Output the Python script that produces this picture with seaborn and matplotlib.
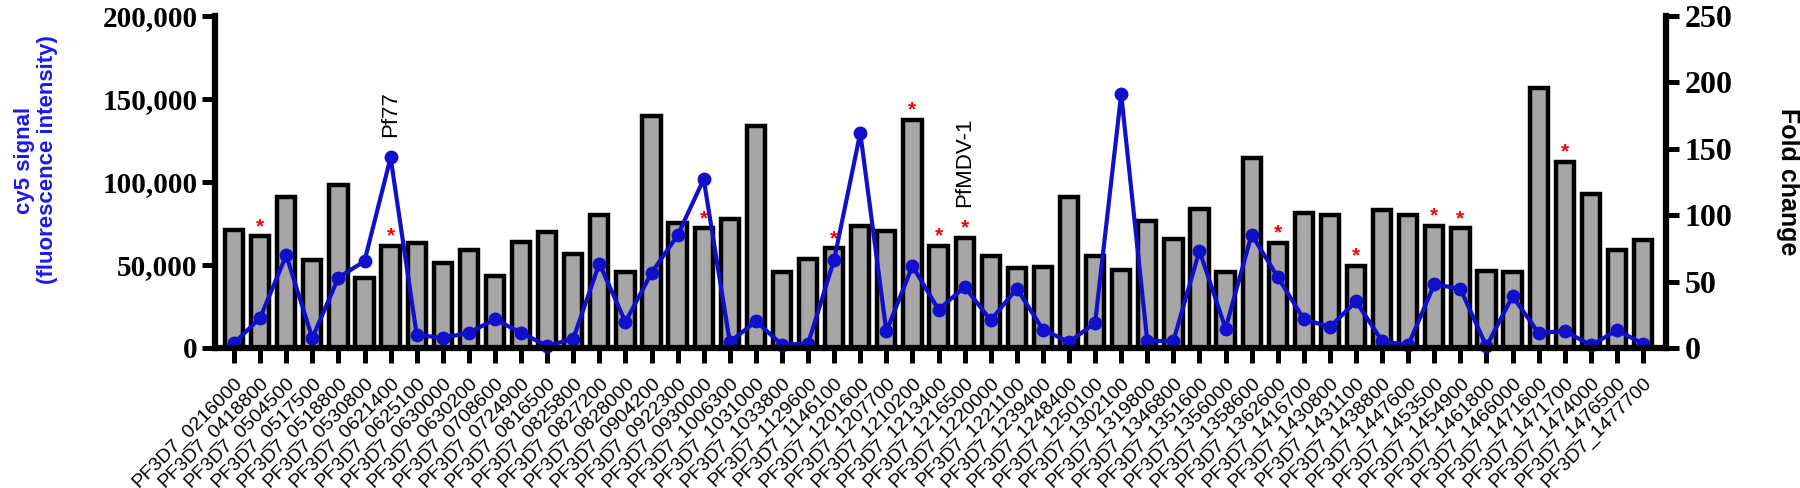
import numpy as np
import pandas as pd
import matplotlib
matplotlib.use("Agg")
import matplotlib.pyplot as plt
import seaborn as sns

genes = ["PF3D7_0216000", "PF3D7_0418800", "PF3D7_0504500", "PF3D7_0517500", "PF3D7_0518800",
         "PF3D7_0530800", "PF3D7_0621400", "PF3D7_0625100", "PF3D7_0630000", "PF3D7_0630200",
         "PF3D7_0708600", "PF3D7_0724900", "PF3D7_0816500", "PF3D7_0825800", "PF3D7_0827200",
         "PF3D7_0828000", "PF3D7_0904200", "PF3D7_0922300", "PF3D7_0930000", "PF3D7_1006300",
         "PF3D7_1031000", "PF3D7_1033800", "PF3D7_1129600", "PF3D7_1146100", "PF3D7_1201600",
         "PF3D7_1207700", "PF3D7_1210200", "PF3D7_1213400", "PF3D7_1216500", "PF3D7_1220000",
         "PF3D7_1221100", "PF3D7_1239400", "PF3D7_1248400", "PF3D7_1250100", "PF3D7_1302100",
         "PF3D7_1319800", "PF3D7_1346800", "PF3D7_1351600", "PF3D7_1356000", "PF3D7_1358600",
         "PF3D7_1362600", "PF3D7_1416700", "PF3D7_1430800", "PF3D7_1431100", "PF3D7_1438800",
         "PF3D7_1447600", "PF3D7_1453500", "PF3D7_1454900", "PF3D7_1461800", "PF3D7_1466000",
         "PF3D7_1471600", "PF3D7_1471700", "PF3D7_1474000", "PF3D7_1476500", "PF3D7_1477700"]

# fold change (bars, right axis)
fold = [89, 84, 114, 66, 123, 53, 77, 79, 64, 74,
        54, 80, 87, 71, 100, 57, 175, 94, 90, 97,
        167, 57, 67, 75, 92, 88, 172, 77, 83, 69,
        60, 61, 114, 69, 59, 96, 82, 105, 57, 143,
        79, 102, 100, 62, 104, 100, 92, 90, 58, 57,
        196, 140, 116, 74, 81]

# cy5 signal (blue line, left axis)
cy5 = [3000, 18100, 55900, 6000, 42400, 52300, 114800, 8000, 6000, 9200,
       17300, 9200, 1200, 5600, 50900, 15700, 45200, 67900, 101700, 3600,
       16100, 2000, 2600, 53300, 129600, 10000, 49400, 23100, 36800, 16700,
       35800, 11100, 3600, 15100, 153000, 4200, 4200, 58600, 11700, 68300,
       42800, 17300, 12700, 28100, 4200, 1600, 38400, 35600, 1000, 31200,
       9000, 10300, 1600, 10700, 2600]

significant = ["PF3D7_0418800", "PF3D7_0530800", "PF3D7_0621400", "PF3D7_0930000",
               "PF3D7_1146100", "PF3D7_1210200", "PF3D7_1213400", "PF3D7_1216500",
               "PF3D7_1362600", "PF3D7_1431100", "PF3D7_1453500", "PF3D7_1454900",
               "PF3D7_1471700"]

df = pd.DataFrame({"gene": genes, "fold": fold, "cy5": cy5})
df["pos"] = np.arange(len(df))

line_blue = "#1010cc"
label_blue = "#1a1aee"

sns.set_style("ticks")
plt.rcParams["font.family"] = ["Liberation Sans", "DejaVu Sans"]
plt.rcParams.update({"text.color": "black", "axes.edgecolor": "black",
                     "xtick.color": "black", "ytick.color": "black",
                     "axes.labelcolor": "black"})

fig = plt.figure(figsize=(18, 4.88), dpi=100)
ax = fig.add_axes([215 / 1800, 1 - 348 / 488, (1666 - 215) / 1800, (348 - 16) / 488])
ax2 = ax.twinx()

# bars on the right axis
sns.barplot(data=df, x="pos", y="fold", ax=ax2, color="#a6a6a6", edgecolor="black",
            linewidth=3.2, width=0.7, saturation=1, native_scale=True)

# cy5 line on the left axis, drawn above the bars
ax.set_zorder(ax2.get_zorder() + 1)
ax.patch.set_visible(False)
sns.lineplot(data=df, x="pos", y="cy5", ax=ax, color=line_blue, linewidth=3,
             marker="o", markersize=10, markeredgewidth=0, clip_on=False)

# significance stars
for _, r in df[df["gene"].isin(significant)].iterrows():
    ax2.text(r["pos"], r["fold"] + 7.5, "*", color="red", fontsize=15, fontweight="bold",
             ha="center", va="center")

# name annotations
r = df[df["gene"] == "PF3D7_0621400"].iloc[0]
ax.text(r["pos"], r["cy5"] + 12500, "Pf77", rotation=90, ha="center", va="bottom", fontsize=16)
r = df[df["gene"] == "PF3D7_1216500"].iloc[0]
ax2.text(r["pos"], r["fold"] + 23, "PfMDV-1", rotation=90, ha="center", va="bottom", fontsize=16)

n = len(df)
ax.set_xlim(-0.73, n - 1 + 0.88)
ax.set_ylim(0, 200000)
ax2.set_ylim(0, 250)
ax.set_yticks([0, 50000, 100000, 150000, 200000])
ax.set_yticklabels([f"{v:,}" for v in [0, 50000, 100000, 150000, 200000]],
                   family="Liberation Serif", fontweight="bold", fontsize=21)
ax2.set_yticks([0, 50, 100, 150, 200, 250])
ax2.set_yticklabels(["0", "50", "100", "150", "200", "250"],
                    family="Liberation Serif", fontweight="bold", fontsize=23)
ax.set_xticks(df["pos"])
ax.set_xticklabels(df["gene"], rotation=45, ha="right", va="top", rotation_mode="anchor",
                   fontsize=14, color="black")

ax.set_xlabel("")
ax.set_ylabel("")
ax2.set_xlabel("")
ax2.set_ylabel("")

for a in (ax, ax2):
    a.spines["top"].set_visible(False)
    for s in a.spines.values():
        s.set_linewidth(4.5)
ax.spines["right"].set_visible(False)
ax2.spines["left"].set_visible(False)
ax2.spines["bottom"].set_visible(False)

ax.tick_params(axis="y", length=9.5, width=3.6, pad=3)
ax2.tick_params(axis="y", length=9.5, width=3.6, pad=4)
ax.tick_params(axis="x", length=11, width=3.6, pad=8)

fig.text(36 / 1800, 1 - 160 / 488, "cy5 signal\n(fluorescence intensity)", rotation=90,
         ha="center", va="center", multialignment="center", color=label_blue,
         fontsize=16, fontweight="bold", linespacing=1.1)
fig.text(1788 / 1800, 1 - 182 / 488, "Fold change", rotation=270, ha="center", va="center",
         fontsize=18, fontweight="bold")

fig.savefig("out.png", dpi=100)
